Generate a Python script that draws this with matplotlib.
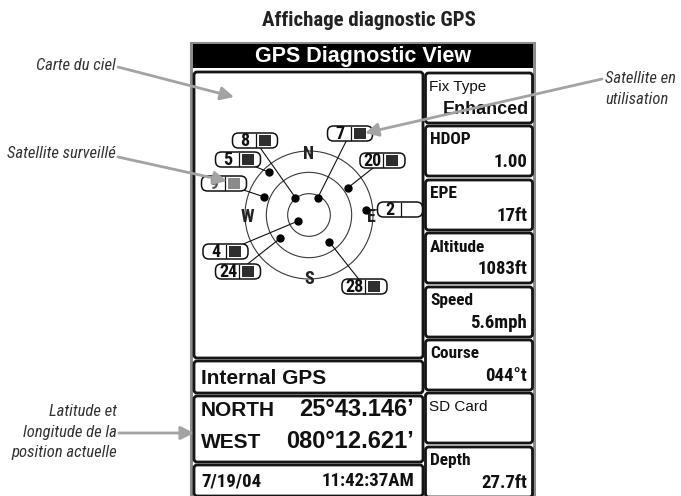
#!/usr/bin/env python3

"""GPS Diagnostic View screen, annotated (French manual figure)."""

import numpy as np
import matplotlib
matplotlib.use('Agg')
import matplotlib.pyplot as plt
from matplotlib import font_manager as fm
from matplotlib.patches import FancyBboxPatch, Rectangle, Circle

# Satellites shown on the sky map.
sat_ids = [7, 8, 5, 9, 20, 2, 4, 24, 28]
sat_azimuth = [27, 322, 317, 292, 55, 85, 241, 231, 143]    # degrees
sat_elevation = [63, 59, 8, 22, 23, 10, 73, 38, 43]         # degrees
sat_state = ['used', 'used', 'used', 'tracked', 'used', 'none',
             'used', 'used', 'used']

# Readout boxes on the right.
readout_labels = ['Fix Type', 'HDOP', 'EPE', 'Altitude', 'Speed', 'Course',
                  'SD Card', 'Depth']
readout_values = ['Enhanced', '1.00', '17ft', '1083ft', '5.6mph', '044°t',
                  '', '27.7ft']

position_labels = ['NORTH', 'WEST']
position_values = ['25°43.146’', '080°12.621’']
gps_source = 'Internal GPS'
date_text = '7/19/04'
time_text = '11:42:37AM'

title = 'Affichage diagnostic GPS'
screen_title = 'GPS Diagnostic View'

GREY = '#a3a3a3'

# where each satellite's tag sits (pixel centres)
tag_pos = {7: (350, 133.5), 8: (255, 140.5), 5: (238, 159.5),
           9: (224, 183.5), 20: (382.5, 160.5), 2: (400, 209.5),
           4: (225.5, 251.5), 24: (238, 271.5), 28: (364.5, 286.5)}


def narrow_font():
    """Find some condensed sans face, fall back to Roboto."""
    fonts = fm.fontManager.ttflist
    names = {f.name for f in fonts}
    for n in ['Liberation Sans Narrow', 'Roboto Condensed',
              'Open Sans Condensed', 'DejaVu Sans Condensed']:
        if n in names:
            return n, 'normal'
    for f in fonts:
        if 'Sans' in f.name and f.stretch in ('condensed', 'semi-condensed'):
            return f.name, f.stretch
    return 'Roboto', 'normal'


NARROW_NAME, NARROW_STRETCH = narrow_font()
NARROW = dict(family=[NARROW_NAME, 'DejaVu Sans'], fontstretch=NARROW_STRETCH)
ARIAL = dict(family=['Liberation Sans', 'DejaVu Sans'])


def panel(ax, x0, y0, x1, y1, lw=2.0):
    ax.add_patch(FancyBboxPatch((x0, y0), x1 - x0, y1 - y0,
                                boxstyle='round,pad=0,rounding_size=3',
                                fc='white', ec='#151515', lw=lw, zorder=2))


def sat_tag(ax, cx, cy, sid, state):
    w, h = 45, 15
    x0, y0 = cx - w / 2, cy - h / 2
    ax.add_patch(FancyBboxPatch((x0, y0), w, h,
                                boxstyle='round,pad=0,rounding_size=6',
                                fc='white', ec='#111', lw=1.1, zorder=6))
    ax.plot([x0 + 0.52 * w] * 2, [y0 + 1, y0 + h - 1], color='#111',
            lw=0.9, zorder=7)
    if state != 'none':
        fill = '#2e2e2e' if state == 'used' else '#8a8a8a'
        ax.add_patch(Rectangle((x0 + 0.58 * w, y0 + 2), 0.27 * w, h - 4,
                               fc=fill, ec='none', zorder=7))
    ax.text(x0 + 0.28 * w, cy + 0.5, str(sid), ha='center', va='center',
            fontsize=13, fontweight='bold',
            color='#111' if state != 'tracked' else '#555', zorder=8,
            **NARROW)


def arrow(ax, start, end):
    ax.annotate('', xy=end, xytext=start,
                arrowprops=dict(arrowstyle='-|>', color=GREY, lw=2.0,
                                mutation_scale=20, shrinkA=0, shrinkB=0),
                zorder=20)


def main():
    fig = plt.figure(figsize=(6.81, 4.96), dpi=100)
    ax = fig.add_axes([0, 0, 1, 1])
    ax.set_xlim(0, 681)
    ax.set_ylim(496, 0)
    ax.axis('off')

    ax.text(369, 20, title, ha='center', va='center', fontsize=15,
            fontweight='bold', color='#222', **NARROW)

    # screen frame and title bar
    ax.add_patch(Rectangle((191, 43), 343, 460, fc='white', ec='#8c8c8c',
                           lw=2.2, zorder=1))
    ax.add_patch(Rectangle((192.5, 44), 340.5, 24, fc='black', ec='none',
                           zorder=2))
    ax.text(363, 56.5, screen_title, ha='center', va='center', fontsize=15.5,
            fontweight='bold', color='white', zorder=3, **ARIAL)

    # left panels
    panel(ax, 194, 72, 423, 358)
    panel(ax, 194, 361, 423, 393)
    panel(ax, 194, 396, 423, 462)
    panel(ax, 194, 465, 423, 496)

    # sky map
    cx, cy, R = 309, 215, 64
    for r in (R / 3, 2 * R / 3, R):
        ax.add_patch(Circle((cx, cy), r, fc='none', ec='#3a3a3a', lw=0.8,
                            zorder=3))
    for lab, (dx, dy) in zip('NWES', [(0, -61), (-62, 2), (62, 2), (0, 64)]):
        ax.text(cx + dx, cy + dy, lab, ha='center', va='center',
                fontsize=13, fontweight='bold', color='#222', zorder=5,
                **NARROW)

    az = np.radians(sat_azimuth)
    rr = (90 - np.array(sat_elevation)) / 90 * R
    sx = cx + rr * np.sin(az)
    sy = cy - rr * np.cos(az)
    for sid, x, y, st in zip(sat_ids, sx, sy, sat_state):
        tx, ty = tag_pos[sid]
        ax.plot([x, tx], [y, ty], color='#111', lw=0.8, zorder=4)
        ax.plot(x, y, 'o', color='black', ms=5, zorder=5)
        sat_tag(ax, tx, ty, sid, st)

    # readouts on the right
    tops = [73, 126, 180, 233, 287, 340, 393, 447]
    for top, lab, val in zip(tops, readout_labels, readout_values):
        panel(ax, 425.5, top, 532.5, top + 50)
        if lab in ('Fix Type', 'SD Card'):
            ax.text(429, top + 14, lab, ha='left', va='center', fontsize=11,
                    color='#111', zorder=4, **ARIAL)
        else:
            ax.text(430, top + 14, lab, ha='left', va='center', fontsize=12.5,
                    fontweight='bold', color='#111', zorder=4, **NARROW)
        if lab == 'Fix Type':
            ax.text(529, top + 36, val, ha='right', va='center', fontsize=13,
                    fontweight='bold', color='#111', zorder=4, **ARIAL)
        elif val:
            ax.text(527, top + 36, val, ha='right', va='center',
                    fontsize=13.5, fontweight='bold', color='#111',
                    zorder=4, **NARROW)

    # position / source / time
    ax.text(201, 378, gps_source, ha='left', va='center', fontsize=15,
            fontweight='bold', color='#111', zorder=4, **ARIAL)
    for y, lab, val in zip([410, 443], position_labels, position_values):
        ax.text(201, y, lab, ha='left', va='center', fontsize=15,
                fontweight='bold', color='#111', zorder=4, **ARIAL)
        ax.text(414, y - 1, val, ha='right', va='center', fontsize=17,
                fontweight='bold', color='#111', zorder=4, **ARIAL)
    ax.text(201, 481, date_text, ha='left', va='center', fontsize=13.5,
            fontweight='bold', color='#111', zorder=4, **NARROW)
    ax.text(414, 481, time_text, ha='right', va='center', fontsize=13.5,
            fontweight='bold', color='#111', zorder=4, **NARROW)

    # callouts
    ital = dict(fontsize=12, style='italic', color='#333', **NARROW)
    ax.text(116, 65, 'Carte du ciel', ha='right', va='center', **ital)
    arrow(ax, (118, 67), (234, 97))
    ax.text(116, 153, 'Satellite surveillé', ha='right', va='center', **ital)
    arrow(ax, (118, 157), (227, 181))
    ax.text(117, 432, 'Latitude et\nlongitude de la\nposition actuelle',
            ha='right', va='center', linespacing=1.45, **ital)
    arrow(ax, (119, 433), (194, 433))
    ax.text(605, 89, 'Satellite en\nutilisation', ha='left', va='center',
            linespacing=1.45, **ital)
    arrow(ax, (602, 79), (365, 133))

    fig.savefig('out.png', dpi=100)


if __name__ == '__main__':
    main()
